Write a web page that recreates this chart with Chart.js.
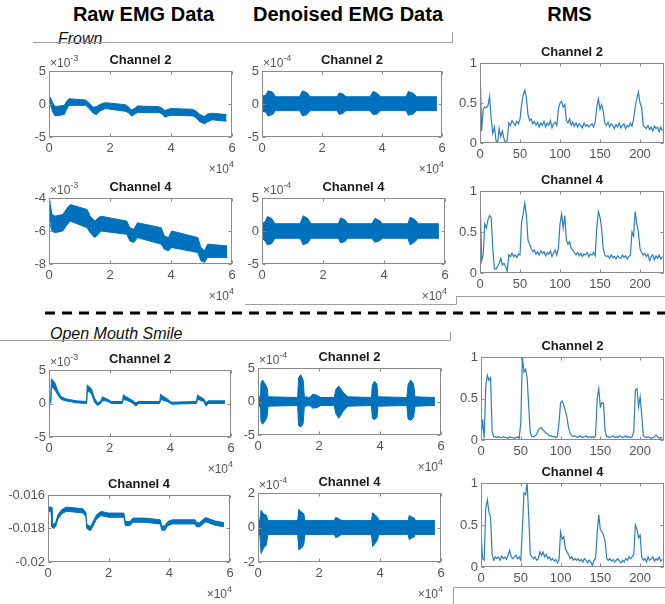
<!DOCTYPE html>
<html><head><meta charset="utf-8">
<script src="https://cdn.jsdelivr.net/npm/chart.js@4/dist/chart.umd.min.js"></script>
<style>
html,body{margin:0;padding:0;background:#fff;}
#root{position:relative;width:665px;height:604px;overflow:hidden;background:#fff;}
.cw{position:absolute;z-index:1;}
svg{position:absolute;left:0;top:0;z-index:0;}
</style></head><body><div id="root">
<svg width="665" height="604" xmlns="http://www.w3.org/2000/svg" font-family="'Liberation Sans', Arial, sans-serif">
<text x="143.5" y="21" font-size="20" font-weight="bold" text-anchor="middle" fill="#000">Raw EMG Data</text>
<text x="348" y="21" font-size="20" font-weight="bold" text-anchor="middle" fill="#000">Denoised EMG Data</text>
<text x="569.5" y="21" font-size="20" font-weight="bold" text-anchor="middle" fill="#000">RMS</text>
<text x="58" y="44" font-size="16" font-style="italic" fill="#111">Frown</text>
<text x="50" y="339" font-size="16" font-style="italic" fill="#111">Open Mouth Smile</text>
<polyline points="33,42.5 452.5,42.5 452.5,32" stroke="#a0a0a0" stroke-width="1" fill="none"/>
<polyline points="245,304.5 456.5,304.5 456.5,297" stroke="#a0a0a0" stroke-width="1" fill="none"/>
<line x1="456" y1="296.5" x2="665" y2="296.5" stroke="#a0a0a0" stroke-width="1"/>
<line x1="45" y1="313" x2="665" y2="313" stroke="#000" stroke-width="3" stroke-dasharray="10 7"/>
<polyline points="0,340.5 450.5,340.5 450.5,332" stroke="#a0a0a0" stroke-width="1" fill="none"/>
<polyline points="665,587.5 453.5,587.5 453.5,604" stroke="#a0a0a0" stroke-width="1" fill="none"/>
</svg>
</div>
<script>
// ===== DATA =====
// Raw EMG, Frown, Channel 2 (x in 1e4 samples, y in 1e-3) - envelope of the dense trace
const rawFrownCh2X     = [0, 0.05, 0.12, 0.2, 0.5, 0.58, 0.65, 1.2, 1.3, 1.45, 1.55, 1.7, 1.85, 2.5, 2.6, 2.7, 2.8, 2.9, 3.6, 3.7, 3.8, 3.9, 4.0, 4.7, 4.8, 4.95, 5.1, 5.2, 5.35, 5.82];
const rawFrownCh2Upper = [0.8, 1.0, 0.2, -0.4, -0.2, 0.4, 0.8, 0.6, 0.2, -0.5, -0.4, 0.0, 0.2, -0.1, -0.4, -0.9, -0.7, -0.3, -0.4, -0.6, -1.0, -0.8, -0.7, -0.8, -1.0, -1.6, -1.9, -1.5, -1.4, -1.6];
const rawFrownCh2Lower = [-0.3, -0.2, -1.2, -1.8, -1.6, -0.8, -0.2, -0.2, -0.6, -1.4, -1.6, -1.0, -0.7, -1.1, -1.3, -1.8, -1.6, -1.3, -1.3, -1.5, -2.0, -1.8, -1.7, -1.8, -2.0, -2.7, -3.0, -2.7, -2.4, -2.6];

// Raw EMG, Frown, Channel 4 (y in 1e-3)
const rawFrownCh4X     = [0, 0.03, 0.1, 0.2, 0.45, 0.6, 0.7, 1.25, 1.35, 1.5, 1.62, 1.7, 2.55, 2.65, 2.78, 2.9, 3.68, 3.78, 3.92, 4.02, 4.88, 4.98, 5.1, 5.2, 5.84];
const rawFrownCh4Upper = [-4.2, -4.3, -5.0, -5.1, -5.0, -4.6, -4.4, -4.7, -5.1, -5.4, -5.2, -5.1, -5.4, -5.8, -5.9, -5.5, -5.8, -6.3, -6.4, -6.0, -6.4, -7.0, -7.2, -6.8, -6.9];
const rawFrownCh4Lower = [-5.4, -5.4, -6.0, -6.1, -6.0, -5.6, -5.4, -5.8, -6.1, -6.4, -6.2, -6.0, -6.2, -6.6, -6.7, -6.4, -6.8, -7.1, -7.2, -7.0, -7.3, -7.8, -7.9, -7.6, -7.6];

// Denoised, Frown, Channel 2 (y in 1e-4)
const denFrownCh2X     = [0, 0.12, 0.2, 0.35, 0.45, 1.25, 1.35, 1.5, 1.6, 2.5, 2.58, 2.7, 2.8, 3.6, 3.7, 3.85, 3.95, 4.8, 4.88, 5.05, 5.15, 5.83];
const denFrownCh2Upper = [1.2, 1.3, 2.0, 1.8, 1.1, 1.1, 2.0, 1.7, 1.1, 1.1, 1.7, 1.5, 1.1, 1.1, 1.9, 1.6, 1.1, 1.1, 1.9, 1.6, 1.1, 1.1];
const denFrownCh2Lower = [-1.1, -1.2, -1.8, -1.6, -1.0, -1.0, -1.8, -1.6, -1.0, -1.0, -1.6, -1.4, -1.0, -1.0, -1.6, -1.5, -1.0, -1.0, -1.7, -1.5, -1.0, -1.0];

// Denoised, Frown, Channel 4 (y in 1e-4)
const denFrownCh4X     = [0, 0.1, 0.18, 0.32, 0.42, 1.25, 1.35, 1.5, 1.6, 2.5, 2.58, 2.72, 2.82, 3.6, 3.7, 3.85, 3.95, 4.78, 4.86, 5.02, 5.12, 5.8];
const denFrownCh4Upper = [1.1, 1.4, 2.2, 1.9, 1.1, 1.1, 2.3, 1.9, 1.1, 1.1, 2.0, 1.7, 1.1, 1.1, 1.9, 1.6, 1.1, 1.1, 2.1, 1.7, 1.1, 1.1];
const denFrownCh4Lower = [-1.1, -1.5, -2.1, -1.9, -1.1, -1.1, -2.1, -1.8, -1.1, -1.1, -1.8, -1.6, -1.1, -1.1, -1.7, -1.5, -1.1, -1.1, -2.1, -1.6, -1.1, -1.1];

// RMS window index (shared)
const rmsX = [0,2,4,6,8,10,12,14,16,18,20,22,24,26,28,30,32,34,36,38,40,42,44,46,48,50,52,54,56,58,60,62,64,66,68,70,72,74,76,78,80,82,84,86,88,90,92,94,96,98,100,102,104,106,108,110,112,114,116,118,120,122,124,126,128,130,132,134,136,138,140,142,144,146,148,150,152,154,156,158,160,162,164,166,168,170,172,174,176,178,180,182,184,186,188,190,192,194,196,198,200,202,204,206,208,210,212,214,216,218,220,222,224,226,228];

const rmsFrownCh2 = [1.00,0.15,0.42,0.45,0.44,0.47,0.58,0.30,0.12,0.20,
  0.03,0.00,0.18,0.08,0.15,0.05,0.00,0.03,0.25,0.22,
  0.28,0.25,0.22,0.27,0.24,0.30,0.48,0.60,0.66,0.57,
  0.35,0.28,0.30,0.24,0.27,0.22,0.26,0.20,0.25,0.22,
  0.27,0.20,0.25,0.22,0.28,0.19,0.24,0.26,0.22,0.42,
  0.50,0.52,0.45,0.48,0.28,0.25,0.30,0.22,0.26,0.21,
  0.25,0.20,0.24,0.22,0.19,0.25,0.21,0.23,0.20,0.22,
  0.24,0.20,0.26,0.45,0.55,0.42,0.48,0.40,0.25,0.22,
  0.26,0.20,0.24,0.22,0.18,0.23,0.20,0.25,0.19,0.22,
  0.24,0.18,0.22,0.20,0.25,0.21,0.30,0.45,0.55,0.64,
  0.50,0.45,0.22,0.20,0.18,0.22,0.17,0.20,0.15,0.21,
  0.18,0.20,0.14,0.20,0.15];

const rmsFrownCh4 = [1.00,0.15,0.22,0.60,0.55,0.65,0.70,0.68,0.30,0.05,
  0.05,0.08,0.12,0.18,0.10,0.12,0.08,0.02,0.22,0.20,
  0.24,0.20,0.22,0.19,0.23,0.22,0.62,0.72,0.85,0.70,
  0.40,0.35,0.30,0.26,0.28,0.23,0.26,0.22,0.27,0.24,
  0.26,0.21,0.25,0.23,0.27,0.20,0.24,0.28,0.22,0.30,
  0.60,0.72,0.55,0.70,0.40,0.35,0.38,0.30,0.28,0.25,
  0.22,0.25,0.21,0.24,0.20,0.23,0.22,0.25,0.20,0.23,
  0.22,0.25,0.21,0.55,0.75,0.68,0.55,0.30,0.22,0.20,
  0.21,0.18,0.22,0.19,0.20,0.17,0.21,0.19,0.18,0.22,
  0.19,0.21,0.17,0.20,0.22,0.50,0.45,0.75,0.60,0.50,
  0.30,0.25,0.22,0.24,0.20,0.23,0.15,0.20,0.22,0.16,
  0.21,0.18,0.22,0.17,0.20];

// Raw EMG, Open Mouth Smile, Channel 2 (y in 1e-3)
const rawSmileCh2X     = [0, 0.06, 0.08, 0.12, 0.2, 0.3, 0.4, 0.55, 0.9, 1.24, 1.26, 1.3, 1.4, 1.5, 1.6, 1.7, 1.76, 1.85, 1.95, 2.05, 2.42, 2.45, 2.55, 2.7, 2.8, 2.86, 2.95, 3.65, 3.68, 3.75, 3.9, 4.0, 4.05, 4.86, 4.9, 4.98, 5.1, 5.18, 5.25, 5.8];
const rawSmileCh2Upper = [0.5, 0.5, 3.7, 3.5, 3.0, 1.8, 1.0, 0.7, 0.4, 0.3, 2.8, 2.6, 2.2, 0.8, 0.1, 0.3, 1.0, 0.8, 0.6, 0.3, 0.3, 1.3, 1.0, 0.6, 0.3, 0.1, 0.3, 0.3, 1.4, 1.1, 0.7, 0.3, 0.2, 0.3, 1.3, 1.0, 0.7, 0.1, 0.4, 0.4];
const rawSmileCh2Lower = [0.1, 0.1, 2.6, 2.4, 2.0, 1.2, 0.6, 0.4, 0.1, 0.0, 1.8, 1.8, 1.5, 0.2, -0.3, 0.0, 0.4, 0.4, 0.3, 0.0, 0.0, 0.6, 0.5, 0.2, -0.1, -0.4, 0.0, 0.0, 0.6, 0.5, 0.3, 0.0, -0.1, 0.0, 0.6, 0.5, 0.3, -0.4, 0.0, 0.0];

// Raw EMG, Open Mouth Smile, Channel 4 (absolute units)
const rawSmileCh4X     = [0, 0.1, 0.13, 0.18, 0.25, 0.33, 0.45, 0.6, 1.15, 1.25, 1.28, 1.4, 1.5, 1.6, 1.75, 2.0, 2.5, 2.55, 2.7, 2.8, 3.2, 3.7, 3.75, 3.85, 3.95, 4.1, 4.85, 4.9, 5.0, 5.1, 5.2, 5.5, 5.8];
const rawSmileCh4Upper = [-0.01672, -0.01672, -0.01765, -0.01775, -0.01765, -0.01718, -0.01688, -0.01672, -0.01682, -0.01705, -0.01775, -0.01788, -0.01755, -0.01718, -0.01698, -0.01708, -0.01708, -0.01758, -0.01758, -0.01738, -0.01738, -0.01748, -0.01785, -0.01785, -0.01758, -0.01748, -0.01748, -0.01765, -0.01765, -0.01748, -0.01735, -0.01755, -0.01765];
const rawSmileCh4Lower = [-0.01697, -0.01697, -0.0179, -0.018, -0.0179, -0.01743, -0.01713, -0.01697, -0.01707, -0.0173, -0.018, -0.01813, -0.0178, -0.01743, -0.01723, -0.01733, -0.01733, -0.01783, -0.01783, -0.01763, -0.01763, -0.01773, -0.0181, -0.0181, -0.01783, -0.01773, -0.01773, -0.0179, -0.0179, -0.01773, -0.0176, -0.0178, -0.0179];

// Denoised, Open Mouth Smile, Channel 2 (y in 1e-4)
const denSmileCh2X     = [0, 0.08, 0.1, 0.15, 0.25, 0.3, 0.33, 1.3, 1.33, 1.4, 1.48, 1.52, 1.7, 1.8, 1.95, 2.05, 2.5, 2.55, 2.65, 2.8, 2.95, 3.72, 3.75, 3.82, 3.9, 3.93, 4.88, 4.92, 5.0, 5.1, 5.15, 5.8];
const denSmileCh2Upper = [0.7, 0.7, 2.8, 3.2, 2.5, 2.0, 0.7, 0.6, 3.5, 4.0, 3.2, 0.7, 0.6, 1.1, 0.9, 0.6, 0.6, 1.8, 2.3, 1.3, 0.7, 0.6, 2.5, 3.0, 2.6, 0.7, 0.6, 2.5, 3.2, 2.6, 0.7, 0.6];
const denSmileCh2Lower = [-0.7, -0.7, -3.0, -3.4, -2.8, -2.2, -0.7, -0.6, -3.6, -3.8, -3.3, -0.7, -0.6, -1.0, -0.9, -0.6, -0.6, -1.8, -2.5, -1.4, -0.7, -0.6, -2.5, -2.7, -2.4, -0.7, -0.6, -2.6, -2.8, -2.4, -0.7, -0.6];

// Denoised, Open Mouth Smile, Channel 4 (y in 1e-4)
const denSmileCh4X     = [0, 0.06, 0.1, 0.18, 0.28, 0.32, 1.3, 1.34, 1.42, 1.5, 1.54, 2.5, 2.55, 2.65, 2.75, 3.72, 3.76, 3.85, 3.92, 3.96, 4.92, 4.96, 5.05, 5.12, 5.16, 5.8];
const denSmileCh4Upper = [0.4, 0.4, 1.0, 0.8, 0.7, 0.4, 0.4, 1.05, 0.9, 0.8, 0.4, 0.4, 0.6, 0.5, 0.4, 0.4, 0.85, 0.7, 0.6, 0.4, 0.4, 0.7, 0.6, 0.55, 0.4, 0.4];
const denSmileCh4Lower = [-0.4, -0.4, -1.5, -1.2, -1.0, -0.4, -0.4, -1.3, -1.2, -1.0, -0.4, -0.4, -0.6, -0.5, -0.4, -0.4, -1.1, -0.9, -0.7, -0.4, -0.4, -0.7, -0.6, -0.55, -0.4, -0.4];

const rmsSmileCh2 = [0.02,0.25,0.02,0.65,0.78,0.72,0.75,0.10,0.04,0.04,
  0.03,0.04,0.03,0.03,0.04,0.03,0.03,0.02,0.04,0.03,
  0.03,0.02,0.03,0.04,0.02,0.20,1.00,0.82,0.85,0.75,
  0.40,0.08,0.04,0.04,0.05,0.07,0.12,0.14,0.15,0.12,
  0.10,0.08,0.07,0.05,0.05,0.04,0.04,0.03,0.04,0.20,
  0.45,0.47,0.42,0.35,0.28,0.15,0.08,0.05,0.04,0.05,
  0.04,0.03,0.05,0.04,0.03,0.04,0.05,0.03,0.04,0.03,
  0.04,0.03,0.05,0.50,0.62,0.40,0.45,0.44,0.10,0.04,
  0.04,0.03,0.04,0.05,0.03,0.04,0.03,0.05,0.04,0.03,
  0.04,0.05,0.03,0.04,0.03,0.04,0.10,0.60,0.62,0.40,
  0.52,0.30,0.05,0.04,0.03,0.04,0.03,0.02,0.03,0.04,
  0.06,0.04,0.02,0.03,0.02];

const rmsSmileCh4 = [0.42,0.10,0.08,0.70,0.80,0.65,0.60,0.15,0.08,0.12,
  0.10,0.12,0.08,0.13,0.10,0.12,0.09,0.14,0.20,0.12,
  0.10,0.12,0.14,0.10,0.12,0.08,0.45,0.88,0.86,1.00,
  0.60,0.15,0.12,0.10,0.12,0.08,0.10,0.18,0.14,0.18,
  0.12,0.15,0.10,0.12,0.08,0.10,0.07,0.09,0.05,0.08,
  0.42,0.33,0.36,0.22,0.18,0.15,0.10,0.12,0.08,0.10,
  0.08,0.10,0.07,0.09,0.06,0.10,0.08,0.05,0.08,0.06,
  0.02,0.08,0.10,0.40,0.62,0.45,0.42,0.38,0.30,0.10,
  0.08,0.10,0.07,0.09,0.06,0.08,0.10,0.07,0.05,0.08,
  0.06,0.10,0.08,0.12,0.10,0.12,0.15,0.50,0.45,0.35,
  0.38,0.12,0.08,0.10,0.06,0.12,0.08,0.10,0.12,0.07,
  0.10,0.08,0.12,0.07,0.09];

// ===== STYLE / LAYOUT =====
const BLUE = '#0072BD';
const RMS_BLUE = '#2a7fc1';
const BOX = '#8a8a8a';
const LABEL = '#555555';
const FONT = "'Liberation Sans', Arial, sans-serif";
const PL = 50, PT = 30, PR = 16, PB = 46;

const matPlugin = {
  id: 'matBox',
  afterDraw(chart, args, o) {
    const {ctx, chartArea: a, scales} = chart;
    ctx.save();
    ctx.strokeStyle = BOX; ctx.lineWidth = 1;
    const L = Math.round(a.left) + 0.5, T = Math.round(a.top) + 0.5;
    const R = Math.round(a.right) - 0.5, B = Math.round(a.bottom) - 0.5;
    ctx.strokeRect(L, T, R - L, B - T);
    ctx.beginPath();
    scales.x.ticks.forEach(t => {
      const px = Math.round(scales.x.getPixelForValue(t.value)) + 0.5;
      ctx.moveTo(px, B); ctx.lineTo(px, B - 3);
      ctx.moveTo(px, T); ctx.lineTo(px, T + 3);
    });
    scales.y.ticks.forEach(t => {
      const py = Math.round(scales.y.getPixelForValue(t.value)) + 0.5;
      ctx.moveTo(L, py); ctx.lineTo(L + 3, py);
      ctx.moveTo(R, py); ctx.lineTo(R - 3, py);
    });
    ctx.stroke();
    ctx.fillStyle = '#1a1a1a';
    ctx.font = 'bold 13px ' + FONT;
    ctx.textAlign = 'center'; ctx.textBaseline = 'alphabetic';
    ctx.fillText(o.title, (a.left + a.right) / 2, a.top - 7);
    ctx.fillStyle = LABEL;
    const drawExp = (x, y, exp, align) => {
      ctx.textAlign = 'left';
      ctx.font = '12px ' + FONT;
      const w1 = ctx.measureText('\u00d710').width;
      ctx.font = '9px ' + FONT;
      const w2 = ctx.measureText(exp).width;
      const x0 = align === 'right' ? x - w1 - w2 : x;
      ctx.font = '12px ' + FONT;
      ctx.fillText('\u00d710', x0, y);
      ctx.font = '9px ' + FONT;
      ctx.fillText(exp, x0 + w1, y - 6);
    };
    if (o.yExp) drawExp(a.left + 1, a.top - 4, o.yExp, 'left');
    if (o.xExp) drawExp(a.right + 2, a.bottom + 36, o.xExp, 'right');
    ctx.restore();
  }
};

function bandSets(xs, up, lo) {
  return [
    {data: xs.map((x, i) => ({x: x, y: up[i]})), borderColor: BLUE, backgroundColor: BLUE,
     borderWidth: 1, pointRadius: 0, fill: '+1', tension: 0},
    {data: xs.map((x, i) => ({x: x, y: lo[i]})), borderColor: BLUE, backgroundColor: BLUE,
     borderWidth: 1, pointRadius: 0, fill: false, tension: 0}
  ];
}
function lineSet(xs, ys) {
  return [{data: xs.map((x, i) => ({x: x, y: ys[i]})), borderColor: RMS_BLUE, borderWidth: 1.2,
           pointRadius: 0, fill: false, tension: 0}];
}

function plot(box, datasets, xs, ys, extra) {
  const [l, t, r, b] = box;
  const w = (r - l) + PL + PR, h = (b - t) + PT + PB;
  const div = document.createElement('div');
  div.className = 'cw';
  div.style.left = (l - PL) + 'px'; div.style.top = (t - PT) + 'px';
  div.style.width = w + 'px'; div.style.height = h + 'px';
  const cv = document.createElement('canvas');
  cv.width = w; cv.height = h; cv.style.width = w + 'px'; cv.style.height = h + 'px';
  div.appendChild(cv);
  document.getElementById('root').appendChild(div);
  const tickFont = {family: FONT, size: 13};
  new Chart(cv, {
    type: 'line',
    data: {datasets: datasets},
    options: {
      responsive: false, animation: false, maintainAspectRatio: false,
      layout: {padding: {left: 0, top: PT, right: PR, bottom: 0}},
      scales: {
        x: {type: 'linear', min: xs[0], max: xs[1],
            ticks: {stepSize: xs[2], includeBounds: false, color: LABEL, font: tickFont, padding: 4,
                    maxRotation: 0, autoSkip: false},
            grid: {display: false, drawTicks: false}, border: {display: false},
            afterFit: s => { s.height = PB; }},
        y: {type: 'linear', min: ys[0], max: ys[1],
            ticks: {stepSize: ys[2], includeBounds: false, color: LABEL, font: tickFont, padding: 3,
                    autoSkip: false, callback: v => String(Number(v.toPrecision(6)))},
            grid: {display: false, drawTicks: false}, border: {display: false},
            afterFit: s => { s.width = PL; }}
      },
      plugins: {legend: {display: false}, tooltip: {enabled: false}, title: {display: false},
                matBox: extra}
    },
    plugins: [matPlugin]
  });
}

// ===== CHARTS =====
plot([49, 71, 232, 137], bandSets(rawFrownCh2X, rawFrownCh2Upper, rawFrownCh2Lower), [0, 6, 2], [-5, 5, 5],
     {title: 'Channel 2', yExp: '-3', xExp: '4'});
plot([49, 198, 232, 264], bandSets(rawFrownCh4X, rawFrownCh4Upper, rawFrownCh4Lower), [0, 6, 2], [-8, -4, 2],
     {title: 'Channel 4', yExp: '-3', xExp: '4'});
plot([262, 71, 442, 137], bandSets(denFrownCh2X, denFrownCh2Upper, denFrownCh2Lower), [0, 6, 2], [-5, 5, 5],
     {title: 'Channel 2', yExp: '-4', xExp: '4'});
plot([262, 198, 445, 264], bandSets(denFrownCh4X, denFrownCh4Upper, denFrownCh4Lower), [0, 6, 2], [-5, 5, 5],
     {title: 'Channel 4', yExp: '-4', xExp: '4'});
plot([480, 63, 664, 143], lineSet(rmsX, rmsFrownCh2), [0, 230, 50], [0, 1, 0.5], {title: 'Channel 2'});
plot([480, 191, 664, 273], lineSet(rmsX, rmsFrownCh4), [0, 230, 50], [0, 1, 0.5], {title: 'Channel 4'});

plot([49, 370, 231, 437], bandSets(rawSmileCh2X, rawSmileCh2Upper, rawSmileCh2Lower), [0, 6, 2], [-5, 5, 5],
     {title: 'Channel 2', yExp: '-3', xExp: '4'});
plot([48, 495, 230, 562], bandSets(rawSmileCh4X, rawSmileCh4Upper, rawSmileCh4Lower), [0, 6, 2], [-0.02, -0.016, 0.002],
     {title: 'Channel 4', xExp: '4'});
plot([258, 368, 441, 435], bandSets(denSmileCh2X, denSmileCh2Upper, denSmileCh2Lower), [0, 6, 2], [-5, 5, 5],
     {title: 'Channel 2', yExp: '-4', xExp: '4'});
plot([258, 493, 441, 562], bandSets(denSmileCh4X, denSmileCh4Upper, denSmileCh4Lower), [0, 6, 2], [-2, 2, 2],
     {title: 'Channel 4', yExp: '-4', xExp: '4'});
plot([481, 357, 664, 440], lineSet(rmsX, rmsSmileCh2), [0, 230, 50], [0, 1, 0.5], {title: 'Channel 2'});
plot([481, 483, 664, 567], lineSet(rmsX, rmsSmileCh4), [0, 230, 50], [0, 1, 0.5], {title: 'Channel 4'});
</script>
</body></html>
